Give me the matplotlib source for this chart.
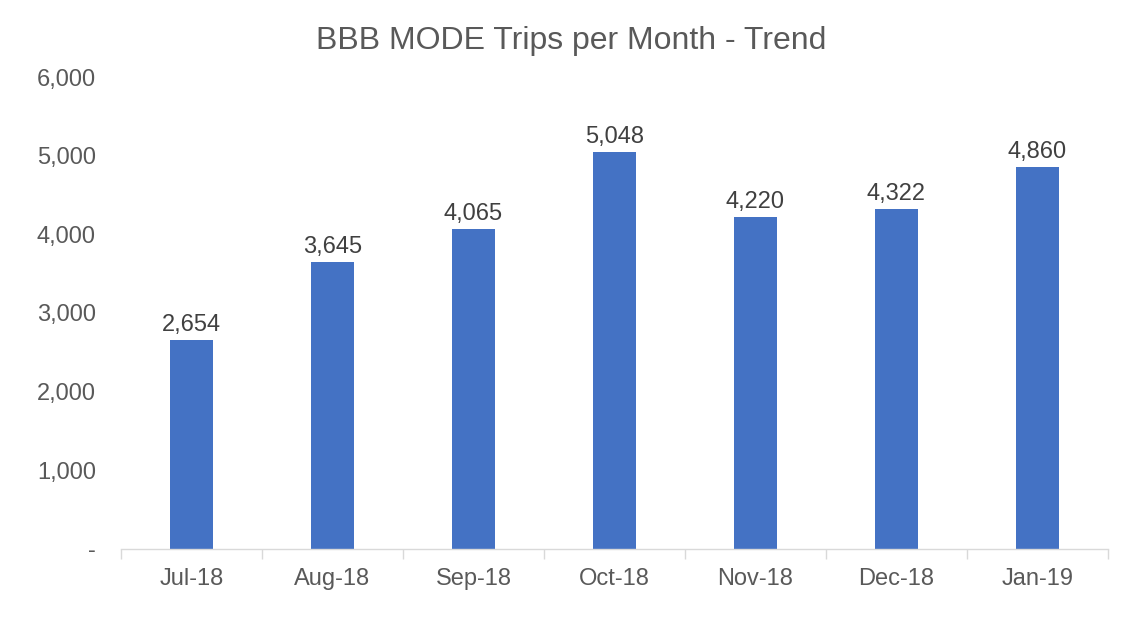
import matplotlib
matplotlib.use("Agg")
import matplotlib.pyplot as plt
from matplotlib.ticker import FuncFormatter

categories = ["Jul-18", "Aug-18", "Sep-18", "Oct-18", "Nov-18", "Dec-18", "Jan-19"]
trips = [2654, 3645, 4065, 5048, 4220, 4322, 4860]
yticks = [0, 1000, 2000, 3000, 4000, 5000, 6000]

plt.rcParams['font.family'] = ['Liberation Sans', 'DejaVu Sans']

fig = plt.figure(figsize=(11.23, 6.24), dpi=100)
ax = fig.add_axes([0.1077, 0.1202, 0.8789, 0.7564])

x = list(range(len(categories)))
bars = ax.bar(x, trips, width=0.31, color="#4472C4", zorder=2)
for xi, v in zip(x, trips):
    ax.annotate(f"{v:,}", (xi, v), xytext=(0, 3), textcoords="offset points",
                ha="center", va="bottom", fontsize=17, color="#404040")

ax.set_xlim(-0.5, len(categories) - 0.5)
ax.set_ylim(0, 6000)
ax.set_yticks(yticks)
ax.yaxis.set_major_formatter(FuncFormatter(lambda v, p: "-" if v == 0 else f"{int(v):,}"))
ax.set_xticks(x)
ax.set_xticklabels(categories)
ax.set_xticks([i - 0.5 for i in range(len(categories) + 1)], minor=True)
ax.tick_params(axis="x", which="major", length=0, pad=14, labelsize=17, colors="#595959")
ax.tick_params(axis="x", which="minor", length=7, color="#D9D9D9", width=1)
ax.tick_params(axis="y", length=0, pad=18, labelsize=17, colors="#595959")
for s in ["top", "right", "left"]:
    ax.spines[s].set_visible(False)
ax.spines["bottom"].set_color("#D9D9D9")
ax.spines["bottom"].set_linewidth(1)

fig.text(0.5085, 0.935, "BBB MODE Trips per Month - Trend", ha="center", va="center",
         fontsize=23, color="#595959")

fig.savefig("out.png", dpi=100, facecolor="white")
